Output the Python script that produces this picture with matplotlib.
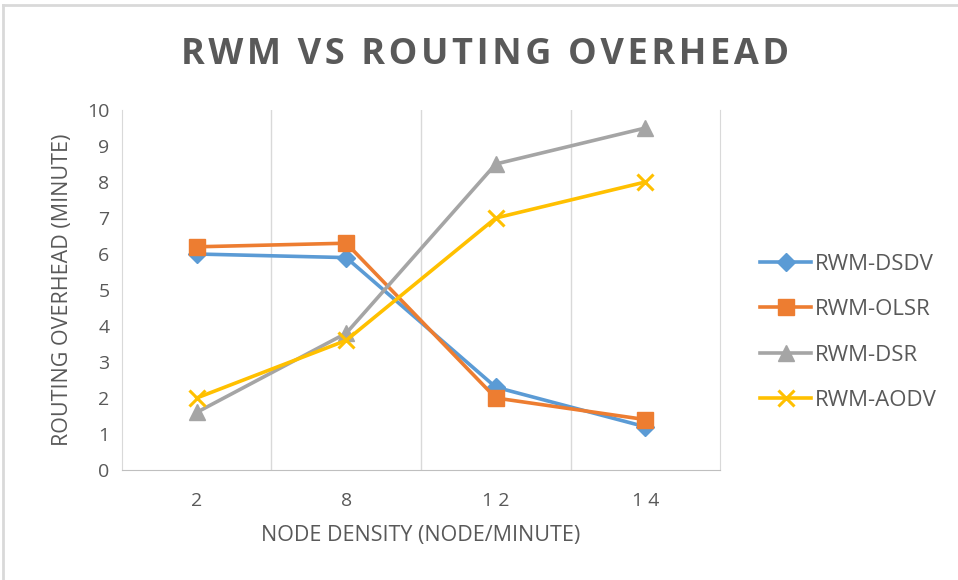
import matplotlib
matplotlib.use("Agg")
import matplotlib.pyplot as plt
from matplotlib.lines import Line2D

plt.rcParams['font.family'] = ['Open Sans', 'DejaVu Sans']

density = ["2", "8", "12", "14"]
dsdv = [6.0, 5.9, 2.3, 1.2]
olsr = [6.2, 6.3, 2.0, 1.4]
dsr = [1.6, 3.8, 8.5, 9.5]
aodv = [2.0, 3.6, 7.0, 8.0]
title = "RWM VS ROUTING OVERHEAD"

text_col = "#595959"
grid_col = "#d9d9d9"

fig = plt.figure(figsize=(9.58, 5.8), dpi=100)
ax = fig.add_axes([0.1273, 0.1897, 0.6243, 0.6206])

x = range(len(density))
ax.plot(x, dsdv, color="#5B9BD5", lw=2.6, marker="D", ms=9, label="RWM-DSDV")
ax.plot(x, olsr, color="#ED7D31", lw=2.6, marker="s", ms=12, label="RWM-OLSR")
ax.plot(x, dsr, color="#A5A5A5", lw=2.6, marker="^", ms=12, label="RWM-DSR")
ax.plot(x, aodv, color="#FFC000", lw=2.6, marker="x", ms=11, mew=2.2, label="RWM-AODV")

ax.set_xlim(-0.5, len(density) - 0.5)
ax.set_ylim(0, 10)
ax.set_yticks(range(0, 11))
ax.set_xticks(list(x))
ax.set_xticklabels([" ".join(d) for d in density])

# vertical gridlines between categories
for b in [0.5, 1.5, 2.5]:
    ax.axvline(b, color=grid_col, lw=1, zorder=0)

ax.spines["top"].set_visible(False)
ax.spines["left"].set_color(grid_col)
ax.spines["right"].set_color(grid_col)
ax.spines["bottom"].set_color("#bfbfbf")
ax.tick_params(axis="y", length=0, labelsize=14, colors=text_col, pad=9)
ax.tick_params(axis="x", length=0, labelsize=14, colors=text_col, pad=16)

ax.set_xlabel("NODE DENSITY (NODE/MINUTE)", fontsize=15.5, color=text_col, labelpad=11)
ax.set_ylabel("ROUTING OVERHEAD (MINUTE)", fontsize=15.5, color=text_col, labelpad=10)

# letter-spaced title (hair spaces between letters)
fig.text(0.506, 0.906, "\u200a".join(title), ha="center", va="center",
         fontsize=26, fontweight="bold", color=text_col)

leg = ax.legend(loc="center left", bbox_to_anchor=(1.067, 0.382), frameon=False,
                fontsize=16, labelspacing=1.1, handlelength=2.3, handletextpad=0.15,
                borderpad=0, borderaxespad=0)
for t in leg.get_texts():
    t.set_color(text_col)

# chart frame: only top and left edges are visible
fig.add_artist(Line2D([0.003, 1.0], [0.991, 0.991], transform=fig.transFigure,
                      color=grid_col, lw=2))
fig.add_artist(Line2D([0.003, 0.003], [0.0, 0.991], transform=fig.transFigure,
                      color=grid_col, lw=2))

fig.savefig("out.png", dpi=100)
